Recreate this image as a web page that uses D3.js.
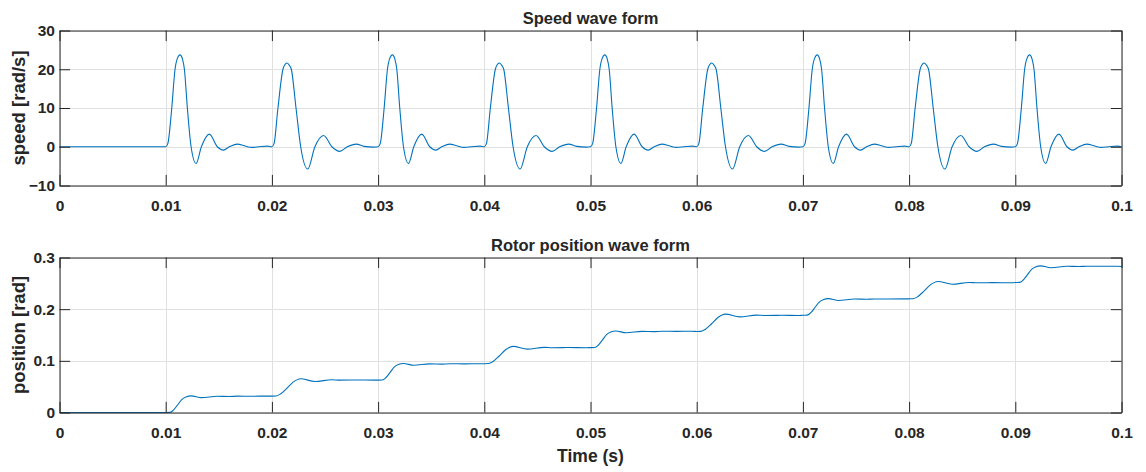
<!DOCTYPE html>
<html>
<head>
<meta charset="utf-8">
<script src="https://cdn.jsdelivr.net/npm/d3@7"></script>
<style>
  body { margin: 0; background: #fff; }
  text { font-family: "Liberation Sans", Arial, Helvetica, sans-serif; font-weight: bold; fill: #262626; }
</style>
</head>
<body>
<svg id="chart" width="1146" height="472"></svg>
<script>
// pulse start times (s) and which of the two repeating shapes each pulse has
var pulseStarts = [0.01, 0.02, 0.03, 0.04, 0.05, 0.06, 0.07, 0.08, 0.09];
var pulseShape = ['odd', 'even', 'odd', 'even', 'odd', 'even', 'odd', 'even', 'odd'];

// speed: [ms after pulse start, rad/s]
var speedOdd = [[0, 0], [0.2, 0.8], [0.57, 10], [0.88, 20], [1.1, 22.8], [1.35, 23.7], [1.58, 22.6],
  [1.76, 20], [2.04, 10], [2.39, 0], [2.86, -4.3], [3.36, 0], [4.11, 3.27], [4.86, 0], [5.43, -0.86],
  [6.0, 0], [6.75, 0.69], [7.4, 0.25], [8.1, -0.17], [8.8, 0], [9.6, 0.15]];
var speedEven = [[0, 0], [0.2, 0.8], [0.57, 10], [1.04, 20], [1.2, 21.1], [1.42, 21.6], [1.65, 21.0],
  [1.83, 20], [2.27, 10], [2.71, 0], [3.37, -5.75], [4.05, 0], [4.87, 2.9], [5.65, 0], [6.38, -1.2],
  [7.1, 0], [7.94, 0.69], [8.7, 0.1], [9.6, -0.1]];

// position rise above the previous plateau: [ms after pulse start, rad]
var posOdd = [[0, 0], [0.4, 0.0003], [0.7, 0.004], [1.17, 0.016], [1.51, 0.025], [1.9, 0.0302],
  [2.39, 0.0322], [3.36, 0.0287], [4.86, 0.0315], [6.0, 0.031], [6.75, 0.0316], [8.1, 0.0315], [9.6, 0.0317]];
var posEven = [[0, 0], [0.4, 0.0003], [0.8, 0.004], [1.4, 0.015], [2.0, 0.027], [2.71, 0.0336],
  [4.05, 0.0283], [5.65, 0.0317], [6.38, 0.031], [7.94, 0.0313], [9.6, 0.031]];
// plateau before each pulse, and the final one
var plateaus = [0, 0.0317, 0.0627, 0.0944, 0.1256, 0.1568, 0.1882, 0.2200, 0.2515, 0.2827];

var timeTicks = [0, 0.01, 0.02, 0.03, 0.04, 0.05, 0.06, 0.07, 0.08, 0.09, 0.1];
var speedTicks = [-10, 0, 10, 20, 30];
var posTicks = [0, 0.1, 0.2, 0.3];

var speedData = [{ t: 0, v: 0 }];
var posData = [{ t: 0, v: 0 }];
pulseStarts.forEach(function (t0, i) {
  var sp = pulseShape[i] === 'odd' ? speedOdd : speedEven;
  var ps = pulseShape[i] === 'odd' ? posOdd : posEven;
  sp.forEach(function (d) { speedData.push({ t: t0 + d[0] / 1000, v: d[1] }); });
  ps.forEach(function (d) { posData.push({ t: t0 + d[0] / 1000, v: plateaus[i] + d[1] }); });
});
speedData.push({ t: 0.1, v: 0 });
posData.push({ t: 0.1, v: plateaus[plateaus.length - 1] });

var svg = d3.select('#chart');
var left = 59.5, right = 1121.5, tick = 10.6;
var x = d3.scaleLinear().domain([0, 0.1]).range([left, right]);

function panel(top, bottom, domain, yTicks, data, title, ylabel, fmt) {
  var y = d3.scaleLinear().domain(domain).range([bottom, top]);
  var g = svg.append('g');

  // grid
  g.selectAll('.gx').data(timeTicks).enter().append('line')
    .attr('x1', function (d) { return Math.round(x(d)) + 0.5; })
    .attr('x2', function (d) { return Math.round(x(d)) + 0.5; })
    .attr('y1', top).attr('y2', bottom)
    .attr('stroke', '#e0e0e0');
  g.selectAll('.gy').data(yTicks).enter().append('line')
    .attr('y1', function (d) { return Math.round(y(d)) + 0.5; })
    .attr('y2', function (d) { return Math.round(y(d)) + 0.5; })
    .attr('x1', left).attr('x2', right)
    .attr('stroke', '#e0e0e0');

  // curve
  g.append('path').datum(data)
    .attr('fill', 'none')
    .attr('stroke', '#0072BD')
    .attr('stroke-width', 1.1)
    .attr('d', d3.line().curve(d3.curveMonotoneX)
      .x(function (d) { return x(d.t); })
      .y(function (d) { return y(d.v); }));

  // axes, ticks pointing inward like MATLAB
  var xb = g.append('g').attr('transform', 'translate(0,' + bottom + ')')
    .call(d3.axisBottom(x).tickValues(timeTicks).tickSize(-tick).tickSizeOuter(0).tickPadding(14)
      .tickFormat(function (d) { return d === 0 ? '0' : d3.format('.2~f')(d); }));
  var xt = g.append('g').attr('transform', 'translate(0,' + top + ')')
    .call(d3.axisTop(x).tickValues(timeTicks).tickSize(-tick).tickSizeOuter(0).tickFormat(''));
  var yl = g.append('g').attr('transform', 'translate(' + left + ',0)')
    .call(d3.axisLeft(y).tickValues(yTicks).tickSize(-tick).tickSizeOuter(0).tickPadding(4.5).tickFormat(fmt));
  var yr = g.append('g').attr('transform', 'translate(' + right + ',0)')
    .call(d3.axisRight(y).tickValues(yTicks).tickSize(-tick).tickSizeOuter(0).tickFormat(''));
  [xb, xt, yl, yr].forEach(function (a) {
    a.selectAll('line').attr('stroke', '#262626');
    a.select('.domain').attr('stroke', '#262626');
    a.selectAll('text').style('font-size', '15.5px').attr('fill', '#262626');
  });

  g.append('text').attr('x', (left + right) / 2).attr('y', top - 7)
    .attr('text-anchor', 'middle').style('font-size', '16.5px').text(title);
  g.append('text')
    .attr('transform', 'translate(25,' + (top + bottom) / 2 + ') rotate(-90)')
    .attr('text-anchor', 'middle').style('font-size', '18.5px').text(ylabel);
}

panel(30.5, 185.5, [-10, 30], speedTicks, speedData, 'Speed wave form', 'speed [rad/s]', d3.format('d'));
panel(257.5, 412.5, [0, 0.3], posTicks, posData, 'Rotor position wave form', 'position [rad]',
  function (d) { return d === 0 ? '0' : d3.format('.1f')(d); });

svg.append('text').attr('x', (left + right) / 2).attr('y', 462)
  .attr('text-anchor', 'middle').style('font-size', '17.5px').text('Time (s)');
</script>
</body>
</html>
